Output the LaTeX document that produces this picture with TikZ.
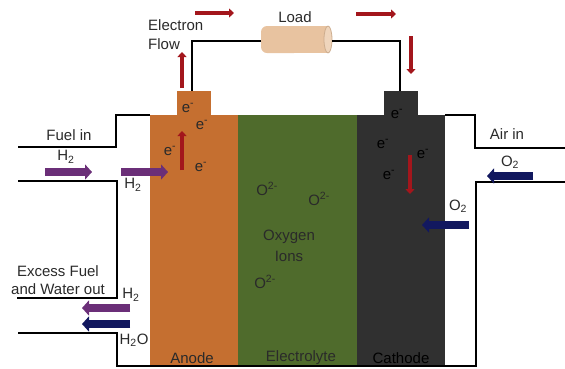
\documentclass[tikz,border=0pt]{standalone}
\usepackage{fontspec}
\setmainfont{Liberation Sans}
\usepackage{tikz}
\usetikzlibrary{arrows.meta}

\definecolor{anodeorange}{HTML}{C56F30}
\definecolor{electrolytegreen}{HTML}{4F6B2C}
\definecolor{cathodegray}{HTML}{303030}
\definecolor{flowred}{HTML}{A3161C}
\definecolor{fuelpurple}{HTML}{6B2F78}
\definecolor{airnavy}{HTML}{12185F}
\definecolor{loadtan}{HTML}{E8C3A0}
\definecolor{labelgray}{HTML}{2A2A2A}

\begin{document}
\begin{tikzpicture}[x=1pt,y=-1pt,
	every node/.style={font=\fontsize{15}{17}\selectfont, text=labelgray, inner sep=0pt},
	wire/.style={black, line width=1.8pt},
	pipe/.style={black, line width=2pt, line join=miter},
	flow/.style={flowred, line width=4pt, -{Triangle[length=5pt,width=9pt]}},
	fuelflow/.style={fuelpurple, line width=8pt, -{Triangle[length=7pt,width=15pt]}},
	airflow/.style={airnavy, line width=8pt, -{Triangle[length=7pt,width=15pt]}},
	tab/.style={minimum width=34pt, minimum height=24pt},
	darklabel/.style={text=black}]
	\useasboundingbox (0,0) rectangle (565,368);

	\fill[anodeorange] (150,115) rectangle (238,367);
	\fill[electrolytegreen] (238,115) rectangle (357,367);
	\fill[cathodegray] (357,115) rectangle (445,367);
	\node[tab, fill=anodeorange] (anodetab) at (194,103) {};
	\node[tab, fill=cathodegray] (cathodetab) at (401,103) {};

	\fill[loadtan, rounded corners=6pt] (261,26) rectangle (300,53);
	\fill[loadtan] (290,26) rectangle (328,53);
	\fill[loadtan!70!white] (328,39.5) ellipse (4pt and 13.5pt);
	\draw[black!12!loadtan, line width=0.8pt] (328,39.5) ellipse (4pt and 13.5pt);
	\coordinate (loadin) at (261,41);
	\coordinate (loadout) at (332,41);

	\draw[wire] (loadin) -- (192,41) -- (192,91);
	\draw[wire] (loadout) -- (400,41) -- (400,91);

	\draw[pipe] (18,147) -- (116,147) -- (116,115) -- (150,115);
	\draw[pipe] (18,181) -- (117,181) -- (117,298) -- (17,298);
	\draw[pipe] (18,333) -- (117,333) -- (117,366) -- (476,366) -- (476,182) -- (565,182);
	\draw[pipe] (445,115) -- (475,115) -- (475,148) -- (565,148);

	\draw[flow] (195,13) -- (234,13);
	\draw[flow] (356,14) -- (396,14);
	\draw[flow] (411,36) -- (411,74);
	\draw[flow] (182,88) -- (182,52);
	\draw[flow] (182,170) -- (182,131);
	\draw[flow] (410,155) -- (410,194);

	\draw[fuelflow] (45,172) -- (92,172);
	\draw[fuelflow] (121,172) -- (168,172);
	\draw[fuelflow] (130,308) -- (82,308);
	\draw[airflow] (130,324) -- (82,324);
	\draw[airflow] (533,176) -- (487,176);
	\draw[airflow] (469,225) -- (422,225);

	\node[anchor=west] (electron) at (148,25) {Electron};
	\node[anchor=west] (flowlabel) at (148,44) {Flow};
	\node (load) at (295,17) {Load};
	\node (fuelin) at (69,135) {Fuel in};
	\node (airin) at (507,134) {Air in};
	\node (excess) at (58,271) {Excess Fuel};
	\node (waterout) at (58,289) {and Water out};

	\node (hfuel) at (66,157) {H\textsubscript{2}};
	\node (hanode) at (133,185) {H\textsubscript{2}};
	\node (hout) at (131,295) {H\textsubscript{2}};
	\node (waterlabel) at (134,340) {H\textsubscript{2}O};
	\node (oair) at (510,162) {O\textsubscript{2}};
	\node (ocathode) at (458,206) {O\textsubscript{2}};

	\node (ea) at (188,108) {e\textsuperscript{-}};
	\node (eb) at (202,125) {e\textsuperscript{-}};
	\node (ec) at (170,151) {e\textsuperscript{-}};
	\node (ed) at (201,167) {e\textsuperscript{-}};
	\node[darklabel] (ee) at (397,114) {e\textsuperscript{-}};
	\node[darklabel] (ef) at (383,144) {e\textsuperscript{-}};
	\node[darklabel] (eg) at (423,154) {e\textsuperscript{-}};
	\node[darklabel] (eh) at (389,175) {e\textsuperscript{-}};

	\node (ionone) at (267,189) {O\textsuperscript{2-}};
	\node (iontwo) at (319,199) {O\textsuperscript{2-}};
	\node (ionthree) at (265,282) {O\textsuperscript{2-}};
	\node (oxygen) at (289,237) {Oxygen};
	\node (ions) at (289,256) {Ions};

	\node (anode) at (192,358) {Anode};
	\node (electrolyte) at (301,358) {Electrolyte};
	\node[darklabel] (cathode) at (401,358) {Cathode};
\end{tikzpicture}
\end{document}
